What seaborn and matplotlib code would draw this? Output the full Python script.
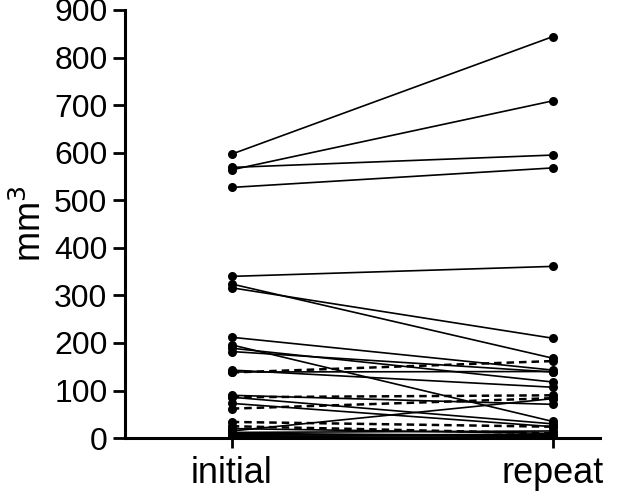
import pandas as pd
import matplotlib
matplotlib.use("Agg")
import matplotlib.pyplot as plt
import seaborn as sns

# paired volumes (mm3): initial -> repeat
initial_solid = [597, 564, 569, 527, 340, 324, 316, 212, 196, 189, 182, 143, 139,
                 90, 86, 73, 15, 10, 6, 8, 3, 12, 20]
repeat_solid = [844, 709, 595, 568, 361, 168, 210, 143, 35, 118, 139, 107, 140,
                71, 30, 24, 83, 5, 8, 3, 2, 15, 10]
initial_dashed = [138, 86, 62, 34, 25]
repeat_dashed = [162, 90, 84, 24, 10]
time_labels = ["initial", "repeat"]

rows = []
for i, (a, b) in enumerate(zip(initial_solid, repeat_solid)):
    rows.append({"subject": f"s{i}", "time": 0, "volume": a, "kind": "solid"})
    rows.append({"subject": f"s{i}", "time": 1, "volume": b, "kind": "solid"})
for i, (a, b) in enumerate(zip(initial_dashed, repeat_dashed)):
    rows.append({"subject": f"d{i}", "time": 0, "volume": a, "kind": "dashed"})
    rows.append({"subject": f"d{i}", "time": 1, "volume": b, "kind": "dashed"})
df = pd.DataFrame(rows)

sns.set_style("ticks", {"axes.edgecolor": "black", "text.color": "black",
                        "xtick.color": "black", "ytick.color": "black",
                        "axes.labelcolor": "black"})
plt.rcParams["font.family"] = ["Liberation Sans", "DejaVu Sans"]

fig = plt.figure(figsize=(6.4, 4.99), dpi=100)
ax = fig.add_axes([0.195, 0.122, 0.742, 0.858])

sns.lineplot(data=df, x="time", y="volume", units="subject", estimator=None,
             style="kind", dashes={"solid": "", "dashed": (3, 2)},
             markers={"solid": "o", "dashed": "o"}, color="black",
             linewidth=1.2, markersize=6.5, markeredgewidth=0,
             legend=False, ax=ax, sort=False)

# dashed pairs drawn a bit heavier, like the original
for line in ax.lines:
    if line.get_linestyle() not in ("-", "solid"):
        line.set_linewidth(1.8)

ax.set_xlim(-0.333, 1.146)
ax.set_ylim(0, 900)
ax.set_yticks(range(0, 901, 100))
ax.set_xticks([0, 1])
ax.set_xticklabels(time_labels, fontsize=26)
ax.tick_params(axis="y", labelsize=23, length=8.5, width=2, pad=4)
ax.tick_params(axis="x", length=7, width=2, pad=6)
ax.set_xlabel("")
ax.set_ylabel("mm$^3$", fontsize=26, labelpad=4)

ax.spines["top"].set_visible(False)
ax.spines["right"].set_visible(False)
ax.spines["left"].set_linewidth(2.2)
ax.spines["bottom"].set_linewidth(2.2)

fig.savefig("out.png", dpi=100)
